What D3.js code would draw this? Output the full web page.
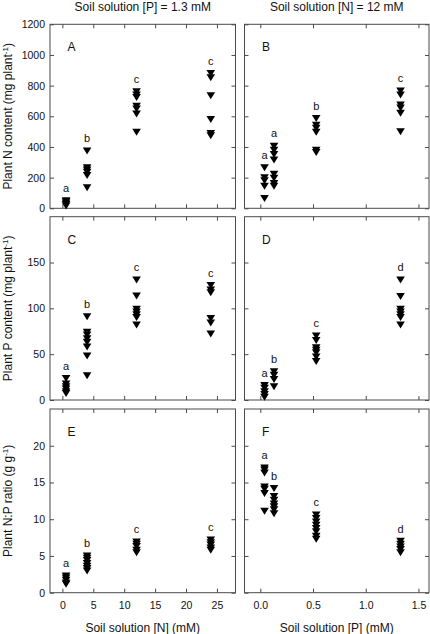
<!DOCTYPE html>
<html>
<head>
<meta charset="utf-8">
<script src="https://cdn.jsdelivr.net/npm/d3@7"></script>
<style>
  html, body { margin: 0; padding: 0; background: #fff; }
  svg { display: block; font-family: "Liberation Sans", Arial, sans-serif; }
</style>
</head>
<body>
<svg id="chart" width="430" height="634"></svg>
<script>
// ---- Data ----
const nLevels = [0.6, 4, 12, 24];          // soil solution [N] (mM), left column
const pLevels = [0.04, 0.13, 0.53, 1.33];  // soil solution [P] (mM), right column

const nContentVsN = [[15, 25, 35, 45, 50], [375, 265, 250, 235, 215, 135], [761, 739, 724, 667, 648, 615, 496], [880, 852, 734, 580, 489, 474]];
const nContentVsP = [[265, 200, 180, 145, 65], [406, 380, 352, 315, 222, 196, 163, 145], [587, 543, 522, 496, 380, 365], [765, 739, 674, 654, 620, 500]];
const pContentVsN = [[23.6, 17.5, 14.5, 12, 9, 7.3], [91, 74, 71, 67, 63, 58, 48, 26.5], [131, 113.5, 99, 96, 93, 90, 82], [125, 120, 117, 89, 84, 72]];
const pContentVsP = [[16, 13, 9, 6, 3], [31, 27, 22.5, 14.5], [70, 65, 57, 54.5, 51.6, 47, 42], [131, 113, 99, 96, 93, 90, 82]];
const ratioVsN = [[2.3, 2.0, 1.7, 1.35, 1.15], [5.0, 4.7, 4.4, 4.0, 3.6, 3.3, 2.95], [6.9, 6.6, 6.3, 5.8, 5.45], [7.2, 6.8, 6.5, 6.1, 5.8]];
const ratioVsP = [[17.0, 16.7, 16.3, 14.4, 14.1, 13.5, 11.1], [14.2, 13.1, 12.6, 12.1, 11.7, 11.3, 10.75], [10.6, 10.1, 9.65, 9.2, 8.75, 8.3, 7.7, 7.3], [7.0, 6.6, 6.25, 5.9, 5.45]];

const lettersA = ["a", "b", "c", "c"];
const lettersB = ["a", "a", "b", "c"];
const lettersC = ["a", "b", "c", "c"];
const lettersD = ["a", "b", "c", "d"];
const lettersE = ["a", "b", "c", "c"];
const lettersF = ["a", "b", "c", "d"];

const panelNames = ["A", "B", "C", "D", "E", "F"];
const colTitles = ["Soil solution [P] = 1.3 mM", "Soil solution [N] = 12 mM"];
const xTitles = ["Soil solution [N] (mM)", "Soil solution [P] (mM)"];
const yTitles = [["Plant N content (mg plant", "-1", ")"], ["Plant P content (mg plant", "-1", ")"], ["Plant N:P ratio (g g", "-1", ")"]];

const xTicksN = [0, 5, 10, 15, 20, 25];
const xTicksP = [0, 0.5, 1.0, 1.5];
const yTicksRow = [[0, 200, 400, 600, 800, 1000, 1200], [0, 50, 100, 150], [0, 5, 10, 15, 20]];
const yDomains = [[0, 1200], [0, 200], [0, 25]];

// ---- Layout ----
const cols = [{x0: 50, x1: 235.5}, {x0: 244.5, x1: 429}];
const rows = [{y0: 24.3, y1: 208.3}, {y0: 216.7, y1: 400}, {y0: 409, y1: 592.7}];
const axisColor = "#4a4a4a";

const svg = d3.select("#chart");

const xScales = [
  d3.scaleLinear().domain([-2, 28]).range([cols[0].x0, cols[0].x1]),
  d3.scaleLinear().domain([-0.15, 1.6]).range([cols[1].x0, cols[1].x1])
];
const yScales = rows.map((r, i) => d3.scaleLinear().domain(yDomains[i]).range([r.y1, r.y0]));

const panels = [
  {row: 0, col: 0, data: nContentVsN, letters: lettersA},
  {row: 0, col: 1, data: nContentVsP, letters: lettersB},
  {row: 1, col: 0, data: pContentVsN, letters: lettersC},
  {row: 1, col: 1, data: pContentVsP, letters: lettersD},
  {row: 2, col: 0, data: ratioVsN, letters: lettersE},
  {row: 2, col: 1, data: ratioVsP, letters: lettersF}
];

const tri = "M-4.3,-3.4L4.3,-3.4L0,3.6Z";

panels.forEach((p, idx) => {
  const x = xScales[p.col], y = yScales[p.row];
  const levels = p.col === 0 ? nLevels : pLevels;
  const xt = p.col === 0 ? xTicksN : xTicksP;
  const yt = yTicksRow[p.row];
  const c = cols[p.col], r = rows[p.row];
  const g = svg.append("g");

  const la = g.append("g").attr("transform", `translate(${c.x0},0)`)
    .call(d3.axisLeft(y).tickValues(yt).tickSize(-4).tickPadding(5)
      .tickFormat(p.col === 0 ? d3.format("d") : ""));
  const ra = g.append("g").attr("transform", `translate(${c.x1},0)`)
    .call(d3.axisRight(y).tickValues(yt).tickSize(-4).tickFormat(""));
  const ta = g.append("g").attr("transform", `translate(0,${r.y0})`)
    .call(d3.axisTop(x).tickValues(xt).tickSize(-4).tickFormat(""));
  const ba = g.append("g").attr("transform", `translate(0,${r.y1})`)
    .call(d3.axisBottom(x).tickValues(xt).tickSize(-4).tickPadding(8.5)
      .tickFormat(p.row === 2 ? (p.col === 0 ? d3.format("d") : d3.format(".1f")) : ""));
  [la, ra, ta, ba].forEach(a => {
    a.select(".domain").remove();
    a.selectAll("line").attr("stroke", axisColor);
    a.selectAll("text").attr("font-size", "10.5px").attr("fill", "#111")
      .attr("font-family", "Liberation Sans, Arial, sans-serif");
  });

  g.append("rect").attr("x", c.x0).attr("y", r.y0)
    .attr("width", c.x1 - c.x0).attr("height", r.y1 - r.y0)
    .attr("fill", "none").attr("stroke", axisColor).attr("stroke-width", 1);

  p.data.forEach((vals, gi) => {
    g.selectAll(null).data(vals).enter().append("path")
      .attr("d", tri)
      .attr("transform", v => `translate(${x(levels[gi])},${y(v)})`)
      .attr("fill", "#000");
    g.append("text")
      .attr("x", x(levels[gi]))
      .attr("y", y(d3.max(vals)) - 12.5)
      .attr("dy", "0.35em")
      .attr("text-anchor", "middle")
      .attr("font-size", "11px")
      .attr("fill", "#111")
      .text(p.letters[gi]);
  });

  g.append("text").attr("x", c.x0 + 17.5).attr("y", r.y0 + 27)
    .attr("font-size", "12px").attr("fill", "#111").text(panelNames[idx]);
});

colTitles.forEach((t, i) => {
  svg.append("text").attr("x", (cols[i].x0 + cols[i].x1) / 2).attr("y", 10.5)
    .attr("text-anchor", "middle").attr("font-size", "12px").attr("fill", "#111").text(t);
});
xTitles.forEach((t, i) => {
  svg.append("text").attr("x", (cols[i].x0 + cols[i].x1) / 2).attr("y", 632)
    .attr("text-anchor", "middle").attr("font-size", "12px").attr("fill", "#111").text(t);
});
yTitles.forEach((parts, i) => {
  const cy = (rows[i].y0 + rows[i].y1) / 2;
  const t = svg.append("text")
    .attr("transform", `translate(12,${cy}) rotate(-90)`)
    .attr("text-anchor", "middle").attr("font-size", "12px").attr("fill", "#111");
  t.append("tspan").text(parts[0]);
  t.append("tspan").attr("font-size", "8px").attr("dy", "-4").text(parts[1]);
  t.append("tspan").attr("dy", "4").text(parts[2]);
});
</script>
</body>
</html>
